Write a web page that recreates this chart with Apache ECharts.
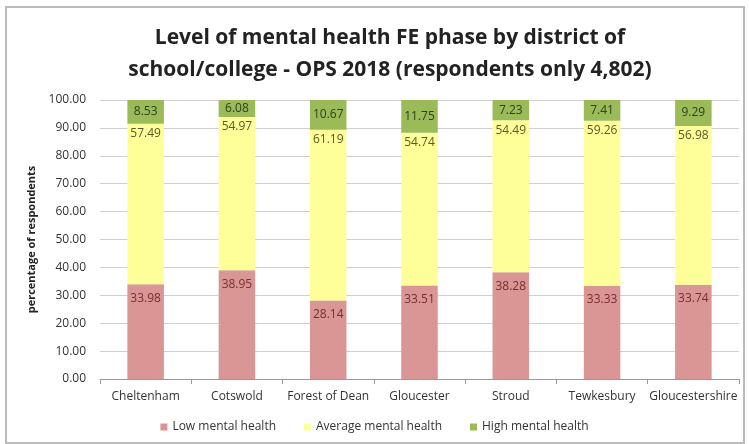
<!DOCTYPE html>
<html>
<head>
<meta charset="utf-8">
<script src="https://cdn.jsdelivr.net/npm/echarts@6/dist/echarts.min.js"></script>
<style>
  html, body { margin: 0; padding: 0; background: #fff; }
  #chart { width: 749px; height: 444px; }
</style>
</head>
<body>
<div id="chart"></div>
<script>
  // districts and percentages
  var districts = ['Cheltenham', 'Cotswold', 'Forest of Dean', 'Gloucester', 'Stroud', 'Tewkesbury', 'Gloucestershire'];
  var lowHealth = [33.98, 38.95, 28.14, 33.51, 38.28, 33.33, 33.74];
  var avgHealth = [57.49, 54.97, 61.19, 54.74, 54.49, 59.26, 56.98];
  var highHealth = [8.53, 6.08, 10.67, 11.75, 7.23, 7.41, 9.29];
  var seriesNames = ['Low mental health', 'Average mental health', 'High mental health'];

  var font = 'Open Sans, Noto Sans, sans-serif';

  function fmt(p) { return p.value.toFixed(2); }

  var myChart = echarts.init(document.getElementById('chart'));
  var option = {
    animation: false,
    textStyle: { fontFamily: font },
    title: {
      text: 'Level of mental health FE phase by district of\nschool/college - OPS 2018 (respondents only 4,802)',
      left: 385,
      textAlign: 'center',
      top: 17,
      textStyle: { fontSize: 21, fontWeight: 'bold', color: '#222', lineHeight: 32, fontFamily: font }
    },
    graphic: [{
      type: 'rect',
      shape: { x: 6, y: 7, width: 738, height: 436 },
      style: { fill: 'none', stroke: '#bbb', lineWidth: 2 },
      silent: true
    }],
    legend: {
      bottom: 6,
      left: 'center',
      itemWidth: 7,
      itemHeight: 7,
      itemGap: 28,
      icon: 'rect',
      textStyle: { fontSize: 12, color: '#333' },
      data: seriesNames
    },
    grid: { left: 100, right: 10, top: 100, bottom: 65 },
    xAxis: {
      type: 'category',
      data: districts,
      axisLine: { lineStyle: { color: '#999' } },
      axisTick: { show: true, alignWithLabel: false, lineStyle: { color: '#999' } },
      axisLabel: { color: '#333', fontSize: 12, margin: 12, interval: 0 }
    },
    yAxis: {
      type: 'value',
      min: 0,
      max: 100,
      interval: 10,
      name: 'percentage of respondents',
      nameLocation: 'middle',
      nameGap: 62,
      nameTextStyle: { fontSize: 11, fontWeight: 'bold', color: '#222' },
      axisLine: { show: false },
      axisTick: { show: false },
      axisLabel: { color: '#333', fontSize: 12, margin: 14, formatter: function (v) { return v.toFixed(2); } },
      splitLine: { lineStyle: { color: '#cfcfcf' } }
    },
    series: [
      {
        name: seriesNames[0], type: 'bar', stack: 'all', data: lowHealth, barWidth: '40%',
        itemStyle: { color: '#D99694' },
        label: { show: true, position: 'insideTop', distance: 8, formatter: fmt, color: '#7a2e2e', fontSize: 12 }
      },
      {
        name: seriesNames[1], type: 'bar', stack: 'all', data: avgHealth,
        itemStyle: { color: '#FFFF99' },
        label: { show: true, position: 'insideTop', distance: 4, formatter: fmt, color: '#5a5a2a', fontSize: 12 }
      },
      {
        name: seriesNames[2], type: 'bar', stack: 'all', data: highHealth,
        itemStyle: { color: '#9BBB59' },
        label: { show: true, position: 'inside', formatter: fmt, color: '#2e3e1e', fontSize: 12 }
      }
    ]
  };
  option && myChart.setOption(option);
</script>
</body>
</html>
